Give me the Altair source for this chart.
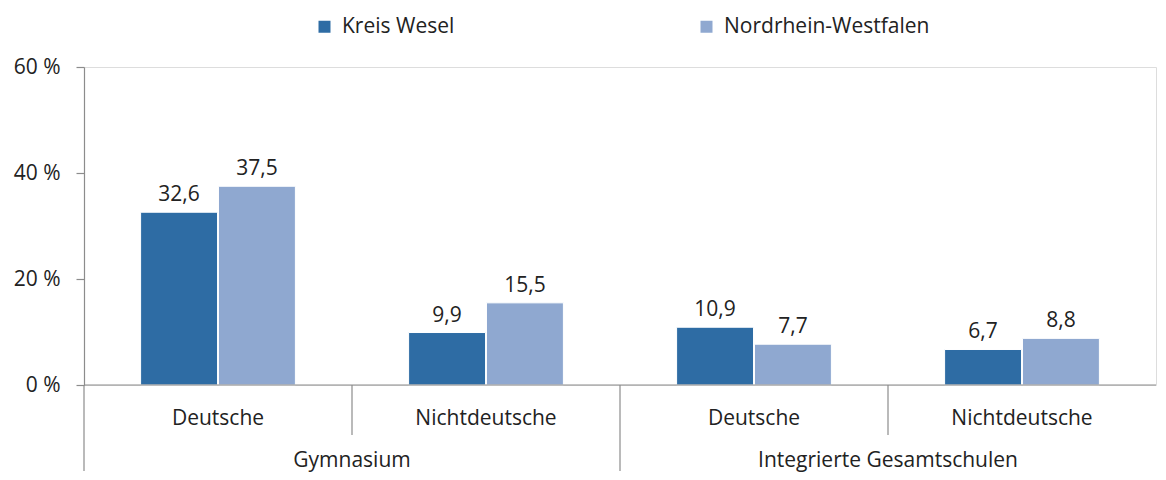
import altair as alt
import pandas as pd

schools = ["Gymnasium", "Gymnasium", "Integrierte Gesamtschulen", "Integrierte Gesamtschulen"]
groups = ["Deutsche", "Nichtdeutsche", "Deutsche", "Nichtdeutsche"]
series = ["Kreis Wesel", "Nordrhein-Westfalen"]
kreis_wesel = [32.6, 9.9, 10.9, 6.7]
nrw = [37.5, 15.5, 7.7, 8.8]
colors = ["#2E6CA4", "#8FA8D0"]
y_ticks = [0, 20, 40, 60]

FONT = "Open Sans"
FS = 21
TXT = "#222222"
GREY = "#8C8C8C"
W = 1072
H = 318

keys = [f"{s}|{g}" for s, g in zip(schools, groups)]

rows = []
for k, g, a, b in zip(keys, groups, kreis_wesel, nrw):
    for name, v in zip(series, [a, b]):
        rows.append({"key": k, "group": g, "series": name, "value": v,
                     "label": f"{v:.1f}".replace(".", ",")})
df = pd.DataFrame(rows)

sub_df = pd.DataFrame({"key": keys, "group": groups})

grp_rows = []
seen = []
for k, s in zip(keys, schools):
    if s not in seen:
        seen.append(s)
    else:
        grp_rows.append({"key": k, "school": s})
grp_df = pd.DataFrame(grp_rows)

sep_rows = []
prev = None
for k, s in zip(keys, schools):
    sep_rows.append({"key": k, "long": s != prev})
    prev = s
sep_df = pd.DataFrame(sep_rows)

xscale = alt.Scale(domain=keys, paddingInner=0, paddingOuter=0)
yscale = alt.Scale(domain=[0, 60], nice=False)
offscale = alt.Scale(domain=series, paddingInner=0.012, paddingOuter=0.727)

base = alt.Chart(df)

bars = base.mark_bar(stroke="white", strokeWidth=1).encode(
    x=alt.X("key:N", scale=xscale, axis=None, sort=keys),
    xOffset=alt.XOffset("series:N", scale=offscale, sort=series),
    y=alt.Y("value:Q", scale=yscale,
            axis=alt.Axis(values=y_ticks, title=None, grid=False,
                          labelExpr="datum.value + ' %'",
                          labelFont=FONT, labelFontSize=FS, labelColor=TXT,
                          labelPadding=16, tickSize=8, tickColor=GREY,
                          domainColor=GREY, tickWidth=1.2, domainWidth=1.2)),
    color=alt.Color("series:N", scale=alt.Scale(domain=series, range=colors),
                    legend=alt.Legend(title=None, orient="none", direction="horizontal",
                                      legendX=230, legendY=-51, symbolType="square",
                                      symbolSize=144, symbolStrokeWidth=0,
                                      labelFont=FONT, labelFontSize=FS, labelColor=TXT,
                                      labelLimit=400, columnPadding=241, labelOffset=7)),
)

vlabels = base.mark_text(font=FONT, fontSize=FS, color=TXT, baseline="alphabetic", dy=-11).encode(
    x=alt.X("key:N", scale=xscale, axis=None, sort=keys),
    xOffset=alt.XOffset("series:N", scale=offscale, sort=series),
    y=alt.Y("value:Q", scale=yscale),
    text="label:N",
)

baseline = alt.Chart(pd.DataFrame({"v": [0]})).mark_rule(color=GREY, strokeWidth=1.2).encode(
    y=alt.Y("v:Q", scale=yscale),
    x=alt.value(0), x2=alt.value(W),
)

sep_long = alt.Chart(sep_df).transform_filter("datum.long").mark_rule(color=GREY, strokeWidth=1.2).encode(
    x=alt.X("key:N", scale=xscale, axis=None, bandPosition=0, sort=keys),
    y=alt.value(H), y2=alt.value(H + 86),
)
sep_short = alt.Chart(sep_df).transform_filter("!datum.long").mark_rule(color=GREY, strokeWidth=1.2).encode(
    x=alt.X("key:N", scale=xscale, axis=None, bandPosition=0, sort=keys),
    y=alt.value(H), y2=alt.value(H + 50),
)

sub_text = alt.Chart(sub_df).mark_text(font=FONT, fontSize=FS, color=TXT, baseline="middle").encode(
    x=alt.X("key:N", scale=xscale, axis=None, sort=keys),
    y=alt.value(H + 34),
    text="group:N",
)
grp_text = alt.Chart(grp_df).mark_text(font=FONT, fontSize=FS, color=TXT, baseline="alphabetic").encode(
    x=alt.X("key:N", scale=xscale, axis=None, bandPosition=0, sort=keys),
    y=alt.value(H + 82),
    text="school:N",
)

chart = alt.layer(bars, vlabels, baseline, sep_long, sep_short, sub_text, grp_text).properties(
    width=W, height=H,
    padding={"left": 5, "top": 8, "right": 0, "bottom": 0},
).configure_view(stroke=None).configure(background="white")

chart.save("out.html", embed_options={"renderer": "svg", "actions": False})
